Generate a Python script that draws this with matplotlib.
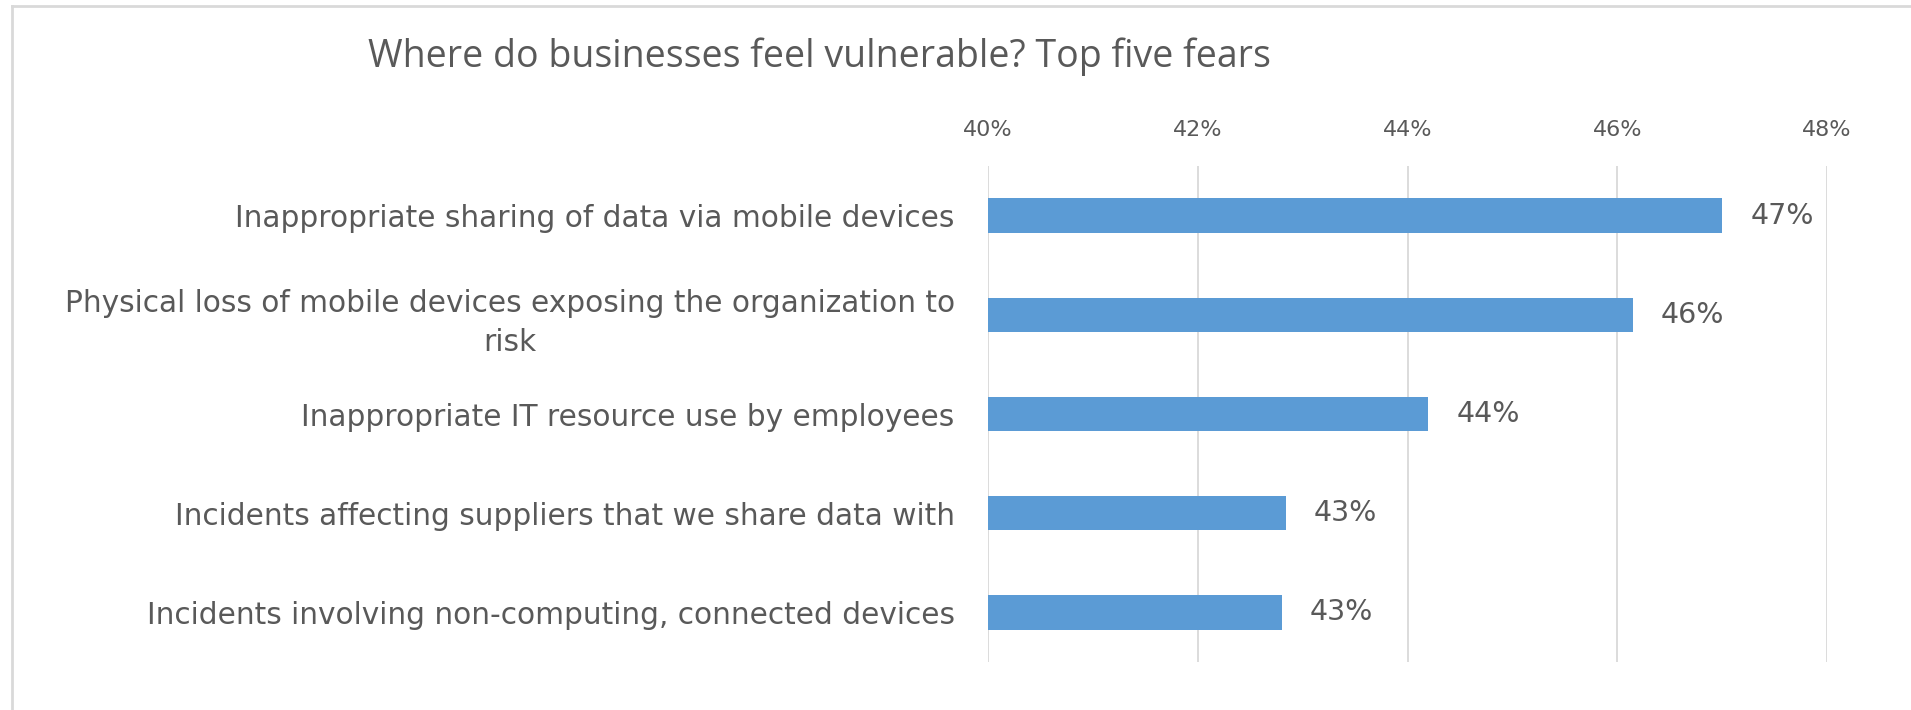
import matplotlib
matplotlib.use("Agg")
import matplotlib.pyplot as plt
from matplotlib.ticker import FuncFormatter

plt.rcParams['font.family'] = ['DejaVu Sans']

# data
fears = [
    "Inappropriate sharing of data via mobile devices",
    "Physical loss of mobile devices exposing the organization to\nrisk",
    "Inappropriate IT resource use by employees",
    "Incidents affecting suppliers that we share data with",
    "Incidents involving non-computing, connected devices",
]
shares = [47.0, 46.15, 44.2, 42.84, 42.8]
share_labels = ["47%", "46%", "44%", "43%", "43%"]
x_ticks = [40, 42, 44, 46, 48]

text_grey = "#595959"
bar_blue = "#5B9BD5"
grid_grey = "#D9D9D9"

fig = plt.figure(figsize=(19.11, 7.10), dpi=100)
ax = fig.add_axes([988 / 1911, 1 - 662 / 710, (1827 - 988) / 1911, (662 - 166) / 710])

pos = list(range(len(fears)))
ax.barh(pos, [s - 40 for s in shares], left=40, height=0.345, color=bar_blue, zorder=3)

ax.set_xlim(40, 48)
ax.set_ylim(len(fears) - 0.5, -0.5)
ax.set_xticks(x_ticks)
ax.xaxis.set_major_formatter(FuncFormatter(lambda v, _: f"{v:.0f}%"))
ax.xaxis.tick_top()
ax.tick_params(axis='x', length=0, pad=19, labelsize=16, colors=text_grey)
ax.set_yticks(pos)
ax.set_yticklabels(fears, fontsize=21.3, color=text_grey, multialignment='center',
                   linespacing=1.45)
ax.tick_params(axis='y', length=0, pad=24)
ax.grid(axis='x', color=grid_grey, linewidth=1.3, zorder=0)
for sp in ax.spines.values():
    sp.set_visible(False)

for p, s, lab in zip(pos, shares, share_labels):
    ax.annotate(lab, (s, p), xytext=(28, 0), textcoords='offset pixels',
                va='center', ha='left', fontsize=20.5, color=text_grey)

fig.text(819 / 1911, 1 - 57 / 710, "Where do businesses feel vulnerable? Top five fears",
         ha='center', va='center', fontsize=27, color=text_grey, family=['Open Sans'])

# chart border (left and top edges visible in the crop)
fig.add_artist(plt.Line2D([12 / 1911, 12 / 1911], [0, 1 - 6 / 710], color="#D9D9D9", lw=2))
fig.add_artist(plt.Line2D([12 / 1911, 1], [1 - 6 / 710, 1 - 6 / 710], color="#D9D9D9", lw=2))

fig.savefig("out.png", dpi=100)
